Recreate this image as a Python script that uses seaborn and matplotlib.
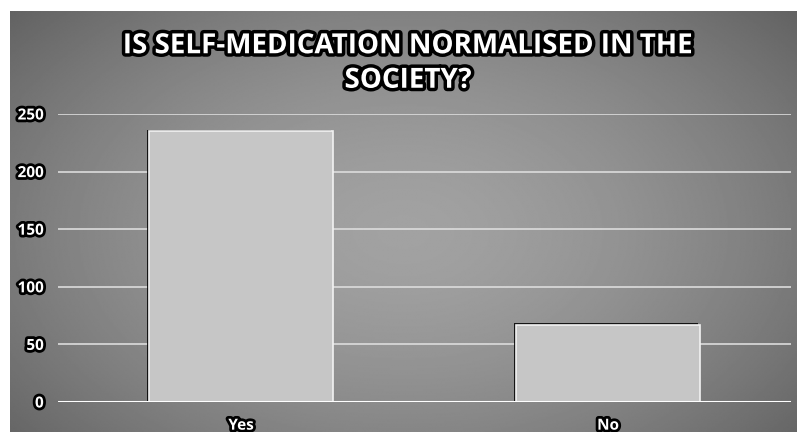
import numpy as np
import matplotlib
matplotlib.use("Agg")
import matplotlib.pyplot as plt
import matplotlib.patheffects as pe
import seaborn as sns

# Survey answers and their counts
categories = ["Yes", "No"]
counts = [235, 67]
y_ticks = [0, 50, 100, 150, 200, 250]
title = "IS SELF-MEDICATION NORMALISED IN THE\nSOCIETY?"

sns.set_theme(style="white")
plt.rcParams["font.family"] = ["Open Sans", "DejaVu Sans"]

W, H = 797, 432
fig = plt.figure(figsize=(W / 100, H / 100), dpi=100, facecolor="white")

# Grey panel with a radial vignette
bg_left, bg_top = 10 / W, 11 / H
bg = fig.add_axes([bg_left, 0, 1 - bg_left, 1 - bg_top])
bg.set_axis_off()
yy, xx = np.mgrid[-1:1:300j, -1:1:600j]
r = np.sqrt((xx / 1.05) ** 2 + ((yy - 0.05) / 1.25) ** 2)
shade = 0.635 - 0.17 * np.clip(r, 0, 1.3) ** 1.6
bg.imshow(shade, cmap="gray", vmin=0, vmax=1, aspect="auto",
          extent=[0, 1, 0, 1], interpolation="bilinear")

# Plot area
ax = fig.add_axes([57.5 / W, 30 / H, 734 / W, 288 / H])
ax.patch.set_alpha(0)

outline = [pe.Stroke(linewidth=4, foreground="black"), pe.Normal()]

for t in y_ticks[1:]:
    ax.axhline(t, color="#dcdcdc", lw=1.2, zorder=0)

sns.barplot(x=categories, y=counts, width=0.5, color="#c6c6c6",
            saturation=1, ax=ax, zorder=2)
for bar in ax.patches:
    bar.set_edgecolor("#f2f2f2")
    bar.set_linewidth(1.2)
    bar.set_path_effects([pe.SimplePatchShadow(offset=(-1.5, 1), shadow_rgbFace="black", alpha=0.85),
                          pe.Normal()])

ax.axhline(0, color="white", lw=2.2, zorder=3,
           path_effects=[pe.SimpleLineShadow(offset=(0, -1.5), shadow_color="black", alpha=0.9),
                         pe.Normal()])

ax.set_xlim(-0.5, 1.5)
ax.set_ylim(0, 250)
ax.set_yticks(y_ticks)
ax.set_xlabel("")
ax.set_ylabel("")
for s in ax.spines.values():
    s.set_visible(False)
ax.tick_params(axis="both", length=0, labelsize=11, labelcolor="white")
ax.tick_params(axis="y", pad=10)
ax.tick_params(axis="x", pad=12)
for lbl in ax.get_xticklabels() + ax.get_yticklabels():
    lbl.set_fontweight("bold")
    lbl.set_path_effects(outline)

fig.text(408 / W, 1 - 63 / H, title, ha="center", va="center",
         fontsize=20, fontweight="bold", color="white", linespacing=1.25,
         path_effects=[pe.Stroke(linewidth=5, foreground="black"), pe.Normal()])

fig.savefig("out.png", dpi=100, facecolor="white")
